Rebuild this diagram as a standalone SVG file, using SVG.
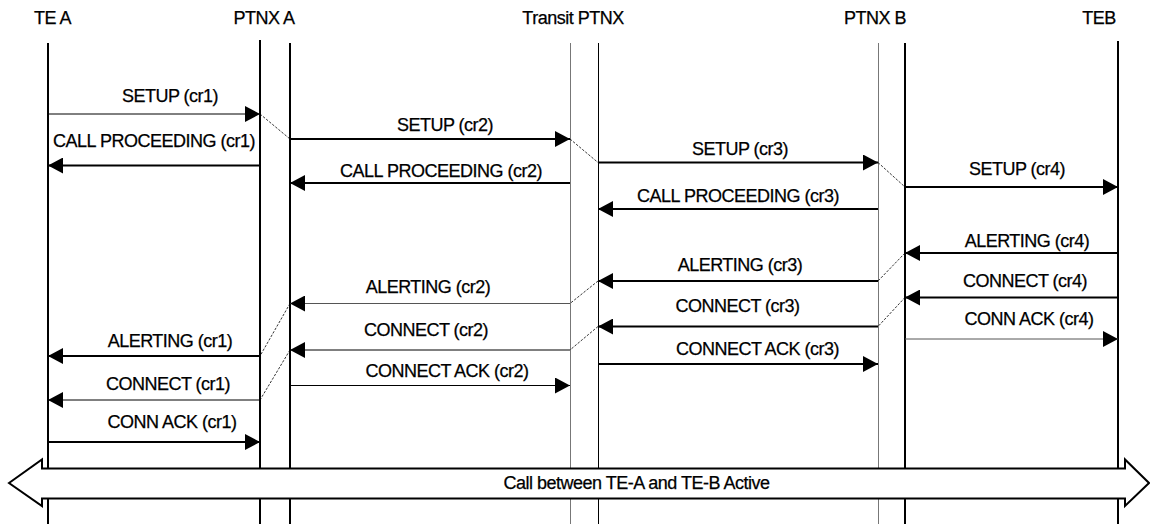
<svg xmlns="http://www.w3.org/2000/svg" width="1150" height="524" viewBox="0 0 1150 524">
<style>
text{font-family:"Liberation Sans",Arial,sans-serif;font-size:18px;letter-spacing:-0.5px;fill:#000;stroke:#000;stroke-width:0.25;text-anchor:middle}
.life{stroke:#000;stroke-width:2;fill:none}
.lifet{stroke:#000;stroke-width:1;fill:none}
.lifeg{stroke:#777;stroke-width:1;fill:none}
.m2{stroke:#000;stroke-width:2;fill:none;marker-end:url(#ah)}
.m1{stroke:#000;stroke-width:1;fill:none;marker-end:url(#ah)}
.m1g{stroke:#555;stroke-width:1;fill:none;marker-end:url(#ah)}
.dg{stroke:#000;stroke-width:0.8;stroke-dasharray:2.5 1.5;fill:none}
.band{fill:#fff;stroke:#000;stroke-width:2}
</style>
<defs>
<marker id="ah" markerUnits="userSpaceOnUse" markerWidth="15" markerHeight="16" viewBox="0 0 15 16" refX="15" refY="8" orient="auto">
<path d="M0,0 L15,8 L0,16 z" fill="#000"/>
</marker>
</defs>
<g id="lifelines">
<g id="te-a"><text x="52.5" y="24">TE A</text><line class="life" x1="48" y1="43" x2="48" y2="524"/></g>
<g id="ptnx-a"><text x="264" y="24">PTNX A</text><line class="life" x1="260" y1="40" x2="260" y2="524"/><line class="life" x1="290" y1="43" x2="290" y2="524"/></g>
<g id="transit-ptnx"><text x="573" y="24">Transit PTNX</text><line class="lifeg" x1="570.5" y1="43" x2="570.5" y2="524"/><line class="lifet" x1="598.5" y1="43" x2="598.5" y2="524"/></g>
<g id="ptnx-b"><text x="875" y="24">PTNX B</text><line class="lifeg" x1="878.5" y1="43" x2="878.5" y2="524"/><line class="life" x1="905" y1="43" x2="905" y2="524"/></g>
<g id="teb"><text x="1099" y="24">TEB</text><line class="life" x1="1118" y1="41" x2="1118" y2="524"/></g>
</g>
<g id="connectors">
<line class="m1" x1="48" y1="114" x2="260" y2="114"/>
<line class="m2" x1="260" y1="165.5" x2="48" y2="165.5"/>
<line class="m2" x1="290" y1="139" x2="570" y2="139"/>
<line class="m2" x1="570" y1="183" x2="290" y2="183"/>
<line class="m2" x1="598" y1="162.5" x2="878" y2="162.5"/>
<line class="m2" x1="878" y1="209" x2="598" y2="209"/>
<line class="m2" x1="905" y1="187" x2="1118" y2="187"/>
<line class="m2" x1="1118" y1="253" x2="905" y2="253"/>
<line class="m2" x1="1118" y1="297.5" x2="905" y2="297.5"/>
<line class="m1g" x1="905" y1="339" x2="1118" y2="339"/>
<line class="m2" x1="878" y1="281" x2="598" y2="281"/>
<line class="m2" x1="878" y1="326.5" x2="598" y2="326.5"/>
<line class="m2" x1="598" y1="364" x2="878" y2="364"/>
<line class="m1g" x1="570" y1="303.5" x2="290" y2="303.5"/>
<line class="m1" x1="570" y1="350" x2="290" y2="350"/>
<line class="m1" x1="290" y1="385.5" x2="570" y2="385.5"/>
<line class="m2" x1="260" y1="356" x2="48" y2="356"/>
<line class="m1" x1="260" y1="400" x2="48" y2="400"/>
<line class="m2" x1="48" y1="442" x2="260" y2="442"/>
<line class="dg" x1="260" y1="114" x2="290" y2="139"/>
<line class="dg" x1="570" y1="139" x2="598" y2="162.5"/>
<line class="dg" x1="878" y1="162.5" x2="905" y2="187"/>
<line class="dg" x1="905" y1="253" x2="878" y2="281"/>
<line class="dg" x1="905" y1="297.5" x2="878" y2="326.5"/>
<line class="dg" x1="598" y1="281" x2="570" y2="303.5"/>
<line class="dg" x1="598" y1="326.5" x2="570" y2="350"/>
<line class="dg" x1="290" y1="303.5" x2="260" y2="356"/>
<line class="dg" x1="290" y1="350" x2="260" y2="400"/>
</g>
<g id="labels">
<text x="170" y="102">SETUP (cr1)</text>
<text x="154" y="147">CALL PROCEEDING (cr1)</text>
<text x="445" y="130.5">SETUP (cr2)</text>
<text x="441" y="177">CALL PROCEEDING (cr2)</text>
<text x="740" y="155">SETUP (cr3)</text>
<text x="738" y="201.5">CALL PROCEEDING (cr3)</text>
<text x="1017" y="175">SETUP (cr4)</text>
<text x="1027" y="246.5">ALERTING (cr4)</text>
<text x="1025" y="287">CONNECT (cr4)</text>
<text x="1029" y="325">CONN ACK (cr4)</text>
<text x="740" y="270.5">ALERTING (cr3)</text>
<text x="737.5" y="311.5">CONNECT (cr3)</text>
<text x="757.5" y="355">CONNECT ACK (cr3)</text>
<text x="428" y="292.5">ALERTING (cr2)</text>
<text x="426" y="335.5">CONNECT (cr2)</text>
<text x="447" y="376.5">CONNECT ACK (cr2)</text>
<text x="170" y="346.5">ALERTING (cr1)</text>
<text x="168" y="390">CONNECT (cr1)</text>
<text x="172" y="427.5">CONN ACK (cr1)</text>
</g>
<g id="call-active">
<polygon class="band" points="9,483 42,459.5 42,468.5 1125,468.5 1125,459.5 1149,483 1125,506 1125,498.5 42,498.5 42,506"/>
<text x="636.5" y="489">Call between TE-A and TE-B Active</text>
</g>
</svg>
